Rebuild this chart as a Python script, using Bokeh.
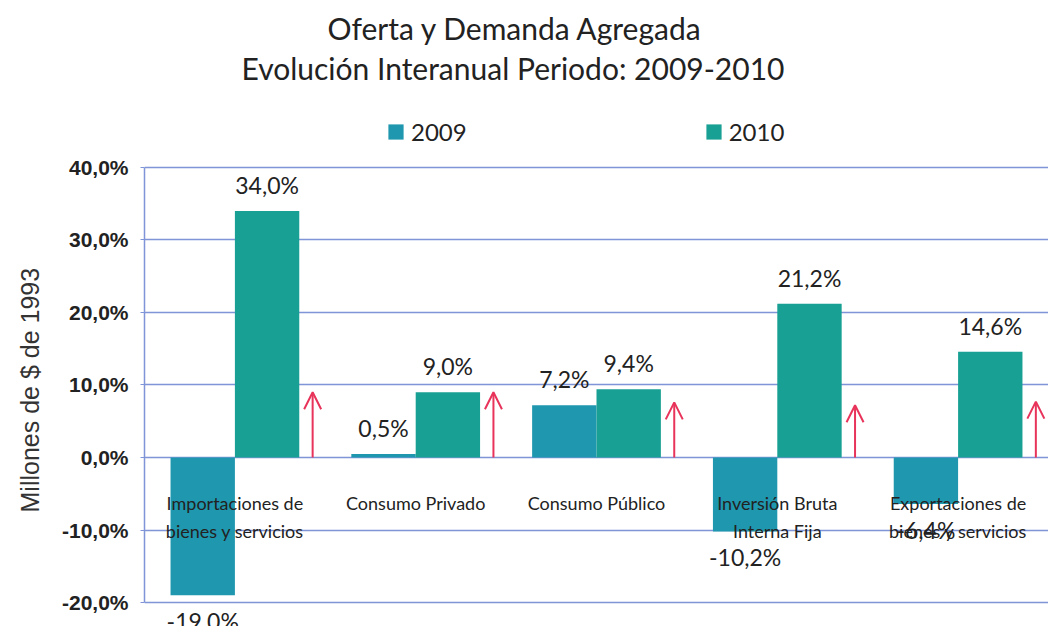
from bokeh.plotting import figure
from bokeh.models import (ColumnDataSource, FactorRange, Range1d, FixedTicker, Legend,
                          LegendItem, Title, Arrow, OpenHead)
from bokeh.transform import dodge
from bokeh.core.properties import value
from bokeh.embed import file_html
from bokeh.resources import INLINE

# ---------------- data ----------------
categories = ["Importaciones de bienes y servicios", "Consumo Privado", "Consumo Público",
              "Inversión Bruta Interna Fija", "Exportaciones de bienes y servicios"]
category_labels = ["Importaciones de\nbienes y servicios", "Consumo Privado", "Consumo Público",
                   "Inversión Bruta\nInterna Fija", "Exportaciones de\nbienes y servicios"]
series_names = ["2009", "2010"]
values_2009 = [-19.0, 0.5, 7.2, -10.2, -6.4]
values_2010 = [34.0, 9.0, 9.4, 21.2, 14.6]
arrow_tops = [9.0, 9.0, 7.6, 7.2, 7.7]
y_ticks = [-20, -10, 0, 10, 20, 30, 40]
y_tick_labels = ["-20,0%", "-10,0%", "0,0%", "10,0%", "20,0%", "30,0%", "40,0%"]
title_lines = ["Oferta y Demanda Agregada", "Evolución Interanual Periodo: 2009-2010"]
y_axis_title = "Millones de $ de 1993"

# ---------------- style ----------------
C2009 = "#1f97ae"
C2010 = "#18a094"
GRID = "#7f95d8"
ARROW = "#e8335a"
TXT = "#222222"
BAR_W = 0.356
OFF = 0.178


def fmt(v):
    return f"{v:.1f}%".replace(".", ",")


src = ColumnDataSource(dict(
    cat=categories,
    catlab=category_labels,
    v2009=values_2009,
    v2010=values_2010,
    l2009=[fmt(v) for v in values_2009],
    l2010=[fmt(v) for v in values_2010],
    o2009=[-26 if v >= 0 else 26 for v in values_2009],
    o2010=[-26 if v >= 0 else 26 for v in values_2010],
))

p = figure(x_range=FactorRange(*categories, range_padding=0),
           y_range=Range1d(-23.31, 50.62),
           width=1048, height=626, output_backend="svg", toolbar_location=None,
           x_axis_location=None, title=None,
           min_border_left=139, min_border_right=0, min_border_top=90, min_border_bottom=0)
p.outline_line_color = None
p.background_fill_color = "white"
p.xgrid.visible = False
p.ygrid.ticker = FixedTicker(ticks=y_ticks)
p.ygrid.grid_line_color = GRID
p.ygrid.grid_line_width = 1.5

ax = p.yaxis[0]
ax.ticker = FixedTicker(ticks=y_ticks)
ax.major_label_overrides = dict(zip(y_ticks, y_tick_labels))
ax.bounds = (-20, 40)
ax.axis_line_color = GRID
ax.axis_line_width = 1.5
ax.major_tick_out = 4
ax.major_tick_in = 0
ax.major_tick_line_color = GRID
ax.minor_tick_line_color = None
ax.major_label_standoff = 12
ax.major_label_text_font = "Liberation Sans"
ax.major_label_text_font_style = "bold"
ax.major_label_text_font_size = "21px"
ax.major_label_text_color = TXT

# y-axis title (placed as a side title so it sits over the -20..40 span)
p.add_layout(Title(text=y_axis_title, align="left", offset=114, vertical_align="middle",
                   standoff=28, text_font="Liberation Sans", text_font_size="25px",
                   text_font_style="normal", text_color="#333333"), "left")

r1 = p.vbar(x=dodge("cat", -OFF, range=p.x_range), top="v2009", bottom=0, width=BAR_W,
            fill_color=C2009, line_color=None, source=src)
r2 = p.vbar(x=dodge("cat", OFF, range=p.x_range), top="v2010", bottom=0, width=BAR_W,
            fill_color=C2010, line_color=None, source=src)

# category labels inside the plot
p.text(x="cat", y=-4.7, text="catlab", source=src, text_align="center", text_baseline="top",
       text_font=value("Lato"), text_font_size="18px", text_color=TXT, text_line_height=1.28)

# data labels
p.text(x=dodge("cat", -OFF, range=p.x_range), y="v2009", text="l2009", y_offset="o2009",
       source=src, text_align="center", text_baseline="middle",
       text_font=value("Lato"), text_font_size="23px", text_color=TXT)
p.text(x=dodge("cat", OFF, range=p.x_range), y="v2010", text="l2010", y_offset="o2010",
       source=src, text_align="center", text_baseline="middle",
       text_font=value("Lato"), text_font_size="23px", text_color=TXT)

# red arrows
arrow_src = ColumnDataSource(dict(
    x=[i + 0.5 + 0.43 for i in range(len(categories))],
    y0=[0] * len(categories),
    y1=arrow_tops,
))
p.add_layout(Arrow(end=OpenHead(size=17, line_color=ARROW, line_width=2),
                   x_start="x", y_start="y0", x_end="x", y_end="y1",
                   line_color=ARROW, line_width=2, source=arrow_src))

legend = Legend(items=[LegendItem(label=series_names[0], renderers=[r1]),
                       LegendItem(label=series_names[1], renderers=[r2])],
                orientation="horizontal", location=(242, 480), spacing=237,
                glyph_width=19, glyph_height=19, label_standoff=6,
                label_text_font="Lato", label_text_font_size="24px", label_text_color=TXT,
                border_line_color=None, background_fill_alpha=0, padding=0, margin=0)
p.add_layout(legend)

p.add_layout(Title(text=title_lines[1], align="left", offset=97, text_font="Lato",
                   text_font_size="30px", text_font_style="normal", text_color=TXT,
                   standoff=10), "above")
p.add_layout(Title(text=title_lines[0], align="left", offset=183, text_font="Lato",
                   text_font_size="30px", text_font_style="normal", text_color=TXT,
                   standoff=-6), "above")

open("out.html", "w").write(file_html(p, INLINE))
